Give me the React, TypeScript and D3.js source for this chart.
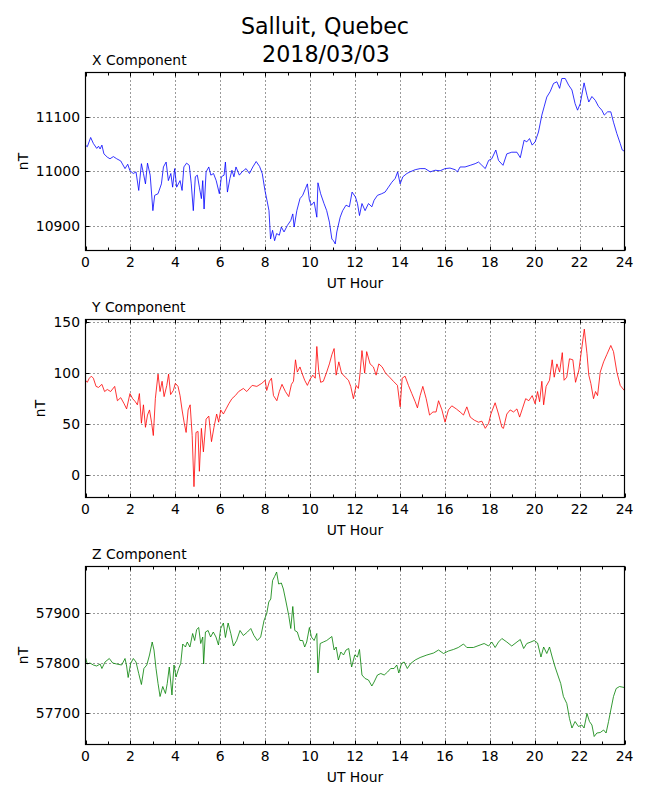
import React, { useRef, useEffect } from 'react';
import * as d3 from 'd3';

// Salluit magnetometer, 2018/03/03
const xHours = [0, 0.08, 0.23, 0.35, 0.5, 0.58, 0.65, 0.73, 0.82, 0.97, 1.09, 1.24, 1.39, 1.57, 1.76, 1.88, 1.98, 2.13, 2.25, 2.37, 2.49, 2.58, 2.67, 2.76, 2.88, 3.0, 3.08, 3.23, 3.38, 3.47, 3.59, 3.69, 3.8, 3.88, 3.97, 4.06, 4.21, 4.3, 4.38, 4.5, 4.62, 4.71, 4.8, 4.89, 4.98, 5.07, 5.16, 5.22, 5.28, 5.37, 5.49, 5.58, 5.7, 5.82, 5.96, 6.05, 6.17, 6.23, 6.32, 6.43, 6.52, 6.61, 6.7, 6.85, 6.97, 7.15, 7.3, 7.45, 7.6, 7.75, 7.87, 7.99, 8.08, 8.17, 8.24, 8.33, 8.42, 8.51, 8.63, 8.72, 8.84, 8.99, 9.14, 9.23, 9.29, 9.41, 9.55, 9.67, 9.79, 9.88, 9.97, 10.06, 10.18, 10.3, 10.35, 10.47, 10.62, 10.74, 10.86, 10.97, 11.04, 11.12, 11.19, 11.34, 11.45, 11.6, 11.75, 11.87, 12.02, 12.11, 12.2, 12.31, 12.45, 12.6, 12.75, 12.85, 13.0, 13.19, 13.34, 13.49, 13.64, 13.79, 13.9, 14.01, 14.13, 14.31, 14.45, 14.68, 14.9, 15.12, 15.35, 15.57, 15.79, 16.01, 16.23, 16.46, 16.56, 16.68, 16.9, 17.13, 17.35, 17.5, 17.65, 17.8, 17.95, 18.09, 18.27, 18.39, 18.59, 18.76, 18.98, 19.21, 19.36, 19.53, 19.65, 19.77, 19.89, 20.02, 20.17, 20.32, 20.42, 20.54, 20.69, 20.84, 20.99, 21.11, 21.21, 21.36, 21.51, 21.66, 21.8, 21.91, 22.03, 22.2, 22.33, 22.41, 22.55, 22.7, 22.84, 22.99, 23.1, 23.25, 23.39, 23.51, 23.66, 23.81, 23.9, 23.99];
const xValues = [11048, 11045, 11062, 11051, 11042, 11046, 11041, 11048, 11032, 11026, 11023, 11027, 11023, 11019, 11005, 11013, 11001, 10996, 10999, 10965, 11014, 10996, 10977, 11015, 10993, 10928, 10956, 10959, 10977, 11008, 11017, 10983, 10996, 10971, 11005, 10971, 10983, 10965, 11008, 11015, 11011, 10977, 10928, 10990, 10993, 10971, 10950, 10983, 10931, 10999, 11008, 10993, 10996, 10983, 10959, 10990, 10993, 11017, 10962, 10987, 11002, 10990, 11008, 10993, 10999, 11005, 10996, 11008, 11018, 11009, 10996, 10965, 10947, 10928, 10876, 10892, 10873, 10886, 10883, 10898, 10889, 10901, 10910, 10922, 10898, 10928, 10950, 10956, 10968, 10977, 10947, 10938, 10944, 10916, 10979, 10959, 10941, 10928, 10907, 10876, 10873, 10867, 10889, 10916, 10928, 10938, 10935, 10962, 10953, 10941, 10919, 10941, 10928, 10941, 10935, 10947, 10956, 10959, 10962, 10971, 10980, 10987, 10999, 10977, 10990, 10996, 10999, 11003, 11005, 11005, 10999, 11002, 11001, 11005, 11006, 11003, 10999, 11008, 11008, 11011, 11014, 11017, 11011, 11005, 11020, 11023, 11039, 11020, 11011, 11032, 11035, 11035, 11025, 11057, 11054, 11060, 11048, 11054, 11072, 11103, 11118, 11136, 11146, 11161, 11164, 11152, 11170, 11170, 11158, 11149, 11124, 11112, 11124, 11162, 11139, 11127, 11137, 11130, 11119, 11112, 11103, 11109, 11109, 11090, 11069, 11051, 11039, 11037];

const yHours = [0, 0.08, 0.17, 0.26, 0.35, 0.47, 0.58, 0.73, 0.85, 0.97, 1.12, 1.3, 1.42, 1.57, 1.72, 1.83, 1.98, 2.1, 2.22, 2.31, 2.4, 2.49, 2.58, 2.67, 2.76, 2.85, 2.94, 3.02, 3.11, 3.23, 3.32, 3.41, 3.5, 3.62, 3.7, 3.79, 3.91, 4.0, 4.12, 4.21, 4.3, 4.39, 4.48, 4.57, 4.66, 4.75, 4.83, 4.92, 5.01, 5.07, 5.16, 5.25, 5.37, 5.49, 5.61, 5.72, 5.84, 5.93, 6.02, 6.14, 6.26, 6.38, 6.52, 6.67, 6.82, 7.03, 7.18, 7.42, 7.63, 7.85, 8.0, 8.07, 8.19, 8.28, 8.37, 8.52, 8.63, 8.75, 8.9, 9.05, 9.17, 9.26, 9.35, 9.43, 9.55, 9.64, 9.76, 9.88, 10.0, 10.12, 10.23, 10.3, 10.38, 10.47, 10.59, 10.74, 10.86, 10.97, 11.07, 11.16, 11.28, 11.4, 11.57, 11.71, 11.81, 11.93, 12.05, 12.15, 12.23, 12.31, 12.43, 12.52, 12.67, 12.82, 12.94, 13.06, 13.21, 13.36, 13.54, 13.71, 13.89, 14.01, 14.1, 14.23, 14.38, 14.53, 14.68, 14.78, 14.9, 15.02, 15.17, 15.32, 15.47, 15.61, 15.72, 15.87, 16.01, 16.16, 16.31, 16.51, 16.68, 16.83, 16.98, 17.13, 17.31, 17.5, 17.65, 17.8, 17.95, 18.05, 18.24, 18.39, 18.54, 18.61, 18.76, 18.91, 19.06, 19.21, 19.33, 19.45, 19.6, 19.74, 19.89, 20.02, 20.13, 20.22, 20.32, 20.4, 20.51, 20.66, 20.78, 20.87, 20.99, 21.11, 21.23, 21.31, 21.43, 21.55, 21.7, 21.82, 21.97, 22.09, 22.21, 22.33, 22.41, 22.5, 22.62, 22.71, 22.8, 22.92, 23.07, 23.21, 23.39, 23.51, 23.66, 23.81, 23.99];
const yValues = [93, 91, 95, 97, 95, 87, 86, 89, 82, 84, 82, 87, 73, 76, 70, 65, 80, 75, 72, 69, 80, 51, 69, 47, 59, 64, 52, 39, 75, 99, 82, 92, 77, 88, 99, 79, 83, 90, 87, 78, 64, 52, 42, 64, 69, 39, -11, 42, 43, 4, 46, 23, 55, 58, 33, 47, 60, 52, 64, 60, 65, 70, 75, 78, 82, 85, 82, 88, 87, 90, 93, 83, 92, 95, 78, 73, 82, 89, 82, 77, 89, 92, 113, 101, 106, 100, 93, 88, 94, 98, 95, 126, 103, 91, 92, 101, 109, 118, 124, 98, 111, 100, 96, 93, 87, 75, 88, 85, 101, 122, 100, 121, 109, 106, 98, 109, 106, 100, 96, 92, 88, 67, 95, 97, 88, 80, 72, 66, 78, 87, 75, 59, 62, 62, 73, 64, 52, 64, 68, 65, 62, 59, 67, 57, 54, 52, 53, 46, 51, 60, 71, 60, 47, 46, 60, 64, 62, 65, 57, 65, 75, 73, 78, 70, 82, 72, 92, 69, 87, 93, 113, 96, 109, 101, 120, 93, 96, 114, 113, 91, 103, 123, 143, 119, 98, 90, 75, 82, 78, 101, 111, 118, 127, 121, 101, 88, 83];

const zHours = [0, 0.08, 0.2, 0.35, 0.5, 0.65, 0.73, 0.87, 1.06, 1.21, 1.39, 1.61, 1.76, 1.83, 1.9, 2.01, 2.13, 2.25, 2.37, 2.49, 2.6, 2.73, 2.85, 2.97, 3.05, 3.14, 3.23, 3.32, 3.44, 3.56, 3.64, 3.73, 3.85, 3.94, 4.03, 4.15, 4.24, 4.33, 4.45, 4.53, 4.65, 4.77, 4.86, 4.95, 5.04, 5.13, 5.22, 5.26, 5.34, 5.46, 5.57, 5.69, 5.81, 5.92, 6.02, 6.14, 6.23, 6.35, 6.47, 6.59, 6.73, 6.88, 7.03, 7.21, 7.36, 7.5, 7.65, 7.8, 7.95, 8.07, 8.16, 8.25, 8.33, 8.42, 8.51, 8.6, 8.72, 8.81, 8.93, 9.05, 9.14, 9.23, 9.32, 9.43, 9.55, 9.67, 9.76, 9.85, 9.97, 10.06, 10.18, 10.3, 10.35, 10.45, 10.59, 10.74, 10.97, 11.07, 11.16, 11.26, 11.37, 11.49, 11.6, 11.72, 11.85, 11.99, 12.11, 12.2, 12.31, 12.45, 12.6, 12.75, 12.85, 13.0, 13.15, 13.3, 13.45, 13.59, 13.74, 13.86, 13.95, 14.07, 14.19, 14.33, 14.48, 14.68, 14.9, 15.2, 15.5, 15.72, 15.94, 16.16, 16.38, 16.6, 16.83, 16.98, 17.27, 17.57, 17.75, 17.95, 18.09, 18.24, 18.39, 18.54, 18.76, 18.98, 19.21, 19.36, 19.51, 19.65, 19.83, 19.98, 20.13, 20.28, 20.4, 20.54, 20.66, 20.78, 20.91, 21.06, 21.16, 21.28, 21.43, 21.55, 21.66, 21.8, 21.95, 22.1, 22.2, 22.33, 22.44, 22.55, 22.65, 22.77, 22.92, 23.07, 23.18, 23.29, 23.39, 23.51, 23.63, 23.78, 23.99];
const zValues = [57810, 57797, 57799, 57795, 57793, 57797, 57788, 57801, 57808, 57799, 57797, 57795, 57808, 57793, 57770, 57798, 57808, 57801, 57778, 57756, 57788, 57795, 57815, 57841, 57825, 57788, 57758, 57732, 57752, 57738, 57758, 57791, 57735, 57795, 57771, 57788, 57798, 57837, 57831, 57841, 57831, 57858, 57844, 57866, 57870, 57838, 57851, 57797, 57861, 57864, 57851, 57861, 57851, 57835, 57868, 57879, 57850, 57879, 57858, 57833, 57844, 57864, 57854, 57861, 57868, 57854, 57844, 57851, 57884, 57898, 57921, 57927, 57964, 57972, 57981, 57957, 57959, 57947, 57921, 57894, 57868, 57912, 57864, 57861, 57844, 57844, 57831, 57841, 57870, 57851, 57844, 57858, 57779, 57838, 57841, 57844, 57852, 57825, 57831, 57805, 57821, 57815, 57825, 57828, 57791, 57815, 57811, 57826, 57775, 57768, 57765, 57753, 57761, 57775, 57778, 57775, 57781, 57788, 57788, 57795, 57779, 57798, 57801, 57788, 57798, 57805, 57810, 57815, 57819, 57825, 57818, 57823, 57826, 57830, 57837, 57830, 57830, 57835, 57838, 57833, 57841, 57830, 57841, 57848, 57841, 57833, 57841, 57846, 57828, 57838, 57841, 57844, 57839, 57811, 57831, 57818, 57831, 57811, 57791, 57771, 57758, 57732, 57718, 57688, 57669, 57682, 57672, 57675, 57669, 57698, 57682, 57675, 57652, 57659, 57660, 57665, 57659, 57682, 57705, 57732, 57748, 57752, 57750];

const xTicks = [10900, 11000, 11100];
const yTicks = [0, 50, 100, 150];
const zTicks = [57700, 57800, 57900];
const hourTicks = [0, 2, 4, 6, 8, 10, 12, 14, 16, 18, 20, 22, 24];

const FONT = '"DejaVu Sans", sans-serif';
const W = 650;
const H = 800;

interface PanelCfg {
  title: string;
  hours: number[];
  values: number[];
  ticks: number[];
  domain: [number, number];
  color: string;
  top: number;
}

const App: React.FC = () => {
  const svgRef = useRef<SVGSVGElement>(null);

  useEffect(() => {
    if (!svgRef.current) return;
    const svg = d3.select(svgRef.current);
    svg.selectAll('*').remove();

    const left = 85.5;
    const right = 624.5;
    const ph = 178;

    const panels: PanelCfg[] = [
      { title: 'X Component', hours: xHours, values: xValues, ticks: xTicks, domain: [10855, 11181], color: '#0000ff', top: 72.5 },
      { title: 'Y Component', hours: yHours, values: yValues, ticks: yTicks, domain: [-21.6, 152.4], color: '#ff0000', top: 319.5 },
      { title: 'Z Component', hours: zHours, values: zValues, ticks: zTicks, domain: [57636, 57992], color: '#008000', top: 566.5 },
    ];

    // figure title
    svg.append('text')
      .attr('x', 325).attr('y', 34)
      .attr('text-anchor', 'middle')
      .style('font-family', FONT).style('font-size', '22.2px')
      .text('Salluit, Quebec');
    svg.append('text')
      .attr('x', 326).attr('y', 61.5)
      .attr('text-anchor', 'middle')
      .style('font-family', FONT).style('font-size', '22.2px')
      .text('2018/03/03');

    panels.forEach((p, i) => {
      const top = p.top;
      const bottom = top + ph;
      const x = d3.scaleLinear().domain([0, 24]).range([left, right]);
      const y = d3.scaleLinear().domain(p.domain).range([bottom, top]);
      const g = svg.append('g');

      // grid
      g.selectAll('.vgrid')
        .data(hourTicks.slice(1, -1))
        .enter().append('line')
        .attr('x1', (d: number) => Math.round(x(d)) + 0.5)
        .attr('x2', (d: number) => Math.round(x(d)) + 0.5)
        .attr('y1', top).attr('y2', bottom)
        .attr('stroke', '#000').attr('stroke-width', 0.8)
        .attr('stroke-dasharray', '1,3');
      g.selectAll('.hgrid')
        .data(p.ticks)
        .enter().append('line')
        .attr('x1', left).attr('x2', right)
        .attr('y1', (d: number) => Math.round(y(d)) + 0.5)
        .attr('y2', (d: number) => Math.round(y(d)) + 0.5)
        .attr('stroke', '#000').attr('stroke-width', 0.8)
        .attr('stroke-dasharray', '1,3');

      // data line
      const clipId = `clip-${i}`;
      svg.append('clipPath').attr('id', clipId)
        .append('rect')
        .attr('x', left).attr('y', top)
        .attr('width', right - left).attr('height', ph);
      const line = d3.line<number>()
        .x((_d: number, k: number) => x(p.hours[k]))
        .y((d: number) => y(d));
      g.append('path')
        .datum(p.values)
        .attr('clip-path', `url(#${clipId})`)
        .attr('fill', 'none')
        .attr('stroke', p.color)
        .attr('stroke-width', 0.8)
        .attr('stroke-linejoin', 'round')
        .attr('d', line);

      // ticks (inward, all four sides)
      const hours = d3.range(0, 25);
      hours.forEach((h: number) => {
        const len = h % 2 === 0 ? 4 : 3;
        const xx = Math.round(x(h)) + 0.5;
        g.append('line').attr('x1', xx).attr('x2', xx)
          .attr('y1', bottom).attr('y2', bottom - len)
          .attr('stroke', '#000').attr('stroke-width', 1);
        g.append('line').attr('x1', xx).attr('x2', xx)
          .attr('y1', top).attr('y2', top + len)
          .attr('stroke', '#000').attr('stroke-width', 1);
      });
      p.ticks.forEach((t: number) => {
        const yy = Math.round(y(t)) + 0.5;
        g.append('line').attr('x1', left).attr('x2', left + 4)
          .attr('y1', yy).attr('y2', yy)
          .attr('stroke', '#000').attr('stroke-width', 1);
        g.append('line').attr('x1', right).attr('x2', right - 4)
          .attr('y1', yy).attr('y2', yy)
          .attr('stroke', '#000').attr('stroke-width', 1);
      });

      // frame
      g.append('rect')
        .attr('x', left).attr('y', top)
        .attr('width', right - left).attr('height', ph)
        .attr('fill', 'none').attr('stroke', '#000').attr('stroke-width', 1.2);

      // tick labels
      g.selectAll('.xl')
        .data(hourTicks)
        .enter().append('text')
        .attr('x', (d: number) => x(d))
        .attr('y', bottom + 16.5)
        .attr('text-anchor', 'middle')
        .style('font-family', FONT).style('font-size', '13.9px')
        .text((d: number) => String(d));
      g.selectAll('.yl')
        .data(p.ticks)
        .enter().append('text')
        .attr('x', left - 5.5)
        .attr('y', (d: number) => y(d) + 5)
        .attr('text-anchor', 'end')
        .style('font-family', FONT).style('font-size', '13.9px')
        .text((d: number) => String(d));

      // axis labels and title
      g.append('text')
        .attr('x', (left + right) / 2)
        .attr('y', bottom + 37)
        .attr('text-anchor', 'middle')
        .style('font-family', FONT).style('font-size', '13.9px')
        .text('UT Hour');

      const maxLen = d3.max(p.ticks, (t: number) => String(t).length) as number;
      const lx = left - 5.5 - maxLen * 0.636 * 13.9 - 8;
      const ly = (top + bottom) / 2;
      g.append('text')
        .attr('transform', `translate(${lx},${ly}) rotate(-90)`)
        .attr('text-anchor', 'middle')
        .style('font-family', FONT).style('font-size', '13.9px')
        .text('nT');

      g.append('text')
        .attr('x', left + 6.5)
        .attr('y', top - 7.5)
        .style('font-family', FONT).style('font-size', '13.9px')
        .text(p.title);
    });
  }, []);

  return (
    <svg
      ref={svgRef}
      width={W}
      height={H}
      viewBox={`0 0 ${W} ${H}`}
      style={{ position: 'absolute', left: 0, top: 0, background: '#fff' }}
    ></svg>
  );
};

export default App;
